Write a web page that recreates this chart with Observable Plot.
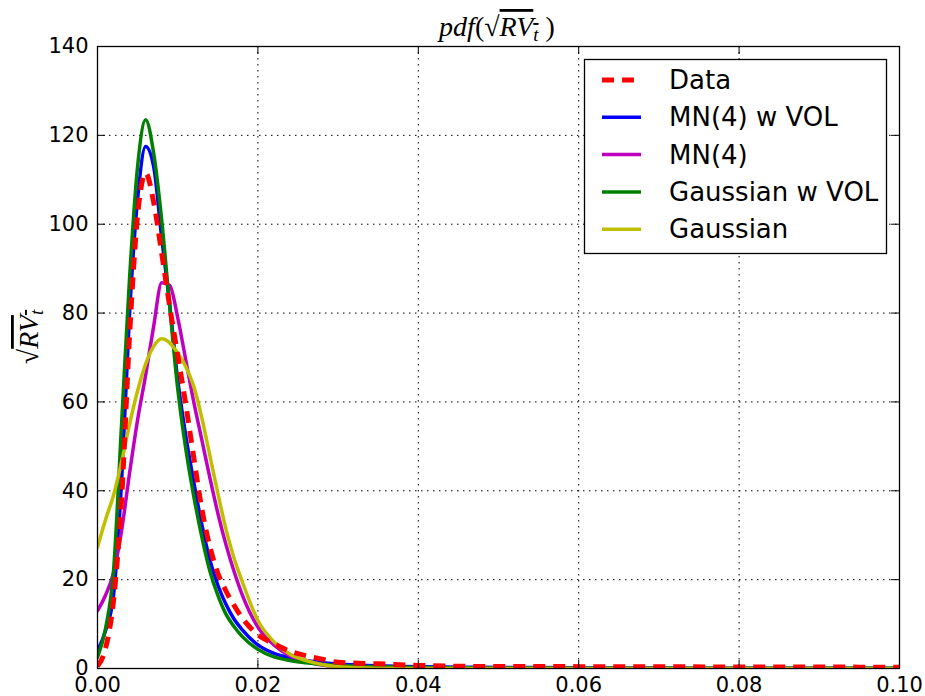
<!DOCTYPE html>
<html><head><meta charset="utf-8">
<script src="https://cdn.jsdelivr.net/npm/d3@7"></script>
<script src="https://cdn.jsdelivr.net/npm/@observablehq/plot@0.6"></script>
<style>body{margin:0;background:#fff}</style>
</head><body><div id="chart"></div>
<script>
// ---- data ----
const xGrid = [0, 0.001, 0.002, 0.003, 0.004, 0.005, 0.006, 0.007, 0.008, 0.009, 0.010, 0.011, 0.012, 0.013, 0.014, 0.015, 0.016, 0.017, 0.018, 0.020, 0.022, 0.024, 0.026, 0.028, 0.030, 0.035, 0.040, 0.045, 0.050, 0.060, 0.070, 0.080, 0.090, 0.100];
const dataY     = [0.5, 4.5, 15.3, 38, 75, 102, 111.5, 105, 93.5, 81.5, 70.5, 59.5, 47.5, 36, 27.5, 21.5, 17.5, 14.3, 11.5, 7.6, 5.6, 3.9, 2.9, 2.1, 1.4, 1.05, 0.7, 0.5, 0.45, 0.42, 0.38, 0.35, 0.32, 0.3];
const mn4VolY   = [4, 8.5, 16.5, 42, 80, 105.6, 117.5, 113, 97, 82, 65, 52.5, 42, 32.5, 24.5, 18.8, 14.5, 11.2, 8.8, 5.3, 3.4, 2.4, 1.8, 1.3, 1.0, 0.6, 0.4, 0.3, 0.25, 0.15, 0.1, 0.07, 0.05, 0.04];
const mn4Y      = [13, 16.5, 21.5, 31, 44, 56, 66, 77, 86.8, 86.2, 79, 69.5, 60, 51.5, 43, 35, 28, 22, 16.8, 9.3, 5.3, 2.8, 1.5, 0.8, 0.45, 0.12, 0.04, 0.01, 0, 0, 0, 0, 0, 0];
const gaussVolY = [2.5, 9, 22, 55, 88, 113, 123.5, 116, 101, 81.5, 63, 49.5, 38.8, 29.7, 22, 16.5, 12.3, 9.5, 7.3, 4.3, 2.6, 1.8, 1.3, 0.9, 0.7, 0.4, 0.25, 0.17, 0.12, 0.07, 0.05, 0.04, 0.03, 0.03];
const gaussY    = [27.3, 33.5, 39, 46.5, 55, 62.5, 68.5, 72.5, 74.2, 73.3, 71, 68, 63.5, 56.5, 48, 39.5, 31.5, 25, 19.8, 10.8, 6, 3.2, 1.8, 0.9, 0.4, 0.05, 0, 0, 0, 0, 0, 0, 0, 0];
const seriesNames = ["Data", "MN(4) w VOL", "MN(4)", "Gaussian w VOL", "Gaussian"];
const xTicks = [0, 0.02, 0.04, 0.06, 0.08, 0.10];
const xTickLabels = ["0.00", "0.02", "0.04", "0.06", "0.08", "0.10"];
const yTicks = [0, 20, 40, 60, 80, 100, 120, 140];
const yTickLabels = ["0", "20", "40", "60", "80", "100", "120", "140"];

// ---- layout / style ----
const W = 925, H = 696, mL = 97, mR = 26, mT = 46, mB = 28;
const plotW = W - mL - mR, plotH = H - mT - mB;
const tickLen = 8;
const styles = [
  {stroke: "#ff0000", strokeWidth: 5, strokeDasharray: "12,8", strokeLinecap: "butt"},
  {stroke: "#0000ff", strokeWidth: 3.5},
  {stroke: "#bf00bf", strokeWidth: 3.5},
  {stroke: "#008000", strokeWidth: 3.5},
  {stroke: "#bfbf00", strokeWidth: 3.5}
];
const seriesValues = [dataY, mn4VolY, mn4Y, gaussVolY, gaussY];
const rows = seriesValues.map(ys => xGrid.map((x, i) => ({x, y: ys[i]})));
const drawOrder = [1, 2, 3, 4, 0];
const gridStyle = {stroke: "black", strokeOpacity: 1, strokeWidth: 1, strokeDasharray: "1.5,4.5"};

const chart = Plot.plot({
  width: W, height: H,
  marginLeft: mL, marginRight: mR, marginTop: mT, marginBottom: mB,
  style: {background: "white", fontFamily: "DejaVu Sans", color: "black"},
  x: {domain: [0, 0.1]},
  y: {domain: [0, 140]},
  marks: [
    Plot.gridX(xTicks, gridStyle),
    Plot.gridY(yTicks, gridStyle),
    ...drawOrder.map(k => Plot.line(rows[k], {x: "x", y: "y", curve: "monotone-x", clip: true, ...styles[k]})),
    Plot.frame({stroke: "black", strokeWidth: 1.3}),
    Plot.tickX(xTicks, {x: d => d, insetTop: plotH - tickLen, stroke: "black"}),
    Plot.tickX(xTicks, {x: d => d, insetBottom: plotH - tickLen, stroke: "black"}),
    Plot.tickY(yTicks, {y: d => d, insetRight: plotW - tickLen, stroke: "black"}),
    Plot.tickY(yTicks, {y: d => d, insetLeft: plotW - tickLen, stroke: "black"}),
    Plot.axisX(xTicks, {tickSize: 0, tickPadding: 9, fontSize: 21, label: null,
      tickFormat: d => xTickLabels[xTicks.indexOf(d)]}),
    Plot.axisY(yTicks, {tickSize: 0, tickPadding: 9, fontSize: 21, label: null,
      tickFormat: d => yTickLabels[yTicks.indexOf(d)]})
  ]
});
document.getElementById("chart").appendChild(chart);

const svg = d3.select(chart);
// title
const t = svg.append("text").attr("x", 497).attr("y", 36).attr("text-anchor", "middle")
  .style("font-family", "Liberation Serif").style("font-size", "28px").attr("fill", "black");
t.append("tspan").style("font-style", "italic").text("pdf");
t.append("tspan").text("(√");
const ov = t.append("tspan").style("text-decoration", "overline");
ov.append("tspan").style("font-style", "italic").text("RV");
ov.append("tspan").style("font-style", "italic").style("font-size", "19px").attr("dy", 5).text("t");
t.append("tspan").attr("dy", -5).text(" )");

// y label
const yl = svg.append("text").attr("transform", "translate(38,337) rotate(-90)").attr("text-anchor", "middle")
  .style("font-family", "Liberation Serif").style("font-size", "28px").attr("fill", "black");
yl.append("tspan").text("√");
const yov = yl.append("tspan").style("text-decoration", "overline");
yov.append("tspan").style("font-style", "italic").text("RV");
yov.append("tspan").style("font-style", "italic").style("font-size", "19px").attr("dy", 5).text("t");

// legend
const lg = svg.append("g");
lg.append("rect").attr("x", 584.5).attr("y", 59.5).attr("width", 302).attr("height", 194)
  .attr("fill", "white").attr("stroke", "black").attr("stroke-width", 1.3);
seriesNames.forEach((name, i) => {
  const yy = 80 + i * 37.3;
  const s = styles[i];
  lg.append("line").attr("x1", 602).attr("x2", 641).attr("y1", yy).attr("y2", yy)
    .attr("stroke", s.stroke).attr("stroke-width", s.strokeWidth)
    .attr("stroke-dasharray", s.strokeDasharray || null).attr("stroke-linecap", "butt");
  lg.append("text").attr("x", 669).attr("y", yy).attr("dy", "0.35em").attr("text-anchor", "start")
    .style("font-family", "DejaVu Sans").style("font-size", "26px").attr("fill", "black").text(name);
});
</script>
</body></html>
